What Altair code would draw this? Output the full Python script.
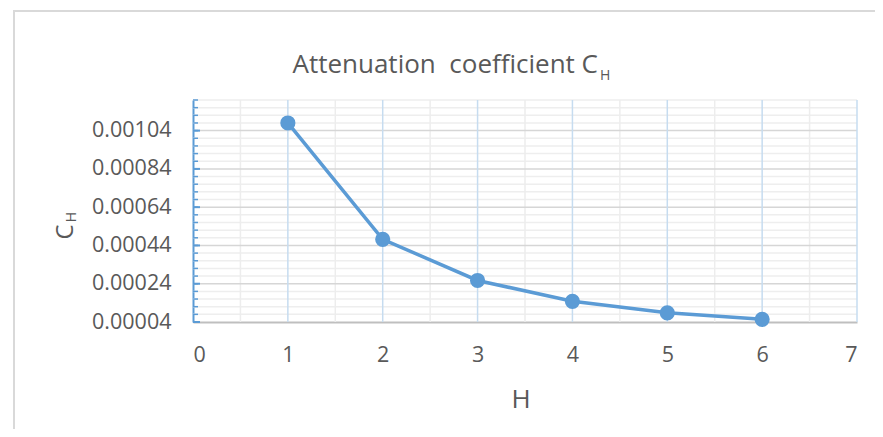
import altair as alt
import pandas as pd

# ---- data ----
H_VALUES = [1, 2, 3, 4, 5, 6]
C_VALUES = [0.00108, 0.000472, 0.000257, 0.000148, 0.000088, 0.000054]

Y_MAJOR = [0.00004, 0.00024, 0.00044, 0.00064, 0.00084, 0.00104]       # labelled ticks
Y_MINOR = [round(0.00004 * k, 6) for k in range(1, 31)]               # 0.00004 .. 0.0012
X_LABELS = [0, 1, 2, 3, 4, 5, 6, 7]
X_GRID_MAJOR = [1, 2, 3, 4, 5, 6, 7]
X_GRID_MINOR = [0.5, 1.5, 2.5, 3.5, 4.5, 5.5, 6.5]
Y_GRID_MAJOR = [v for v in Y_MAJOR if v != Y_MAJOR[0]]
Y_GRID_MINOR = [v for v in Y_MINOR if v not in Y_MAJOR]

TITLE_MAIN = "Attenuation\u00a0 coefficient C"
TITLE_SUB = "H"
Y_TITLE_MAIN = "C"
Y_TITLE_SUB = "H"
X_TITLE = "H"

FONT = "Open Sans"
TEXT_COLOR = "#595959"
BLUE = "#5b9bd5"

df = pd.DataFrame({"H": H_VALUES, "C": C_VALUES})

x_scale = alt.Scale(domain=[0, 7], nice=False, zero=False)
y_scale = alt.Scale(domain=[0.00004, 0.0012], nice=False, zero=False)

x_axis = alt.Axis(
    values=X_LABELS,
    format="d",
    labelOverlap=False,
    ticks=False,
    tickSize=0,
    labelPadding=22,
    labelFontSize=21.5,
    labelFont=FONT,
    labelColor=TEXT_COLOR,
    domainColor="#bfbfbf",
    domainWidth=2,
    grid=False,
    title=None,
)

y_axis = alt.Axis(
    values=Y_MAJOR,
    format=".5f",
    labelOverlap=False,
    ticks=False,
    tickSize=0,
    labelPadding=22,
    labelFontSize=21.5,
    labelFont=FONT,
    labelColor=TEXT_COLOR,
    domainColor=BLUE,
    domainWidth=2,
    grid=False,
    title=None,
)


def X(field):
    return alt.X(field, scale=x_scale, axis=x_axis)


def Y(field):
    return alt.Y(field, scale=y_scale, axis=y_axis)


def hgrid(values, color):
    return alt.Chart(pd.DataFrame({"v": values})).mark_rule(color=color, strokeWidth=1.5).encode(
        y=Y("v:Q"), x=alt.value(0), x2=alt.value(664)
    )


def vgrid(values, color):
    return alt.Chart(pd.DataFrame({"v": values})).mark_rule(color=color, strokeWidth=1.5).encode(
        x=X("v:Q"), y=alt.value(0), y2=alt.value(222)
    )


grid_h_minor = hgrid(Y_GRID_MINOR, "#eeeeee")
grid_v_minor = vgrid(X_GRID_MINOR, "#ededed")
grid_h_major = hgrid(Y_GRID_MAJOR, "#d6d6d6")
grid_v_major = vgrid(X_GRID_MAJOR, "#c6dcf0")

base = alt.Chart(df)
line = base.mark_line(color=BLUE, strokeWidth=3.5).encode(x=X("H:Q"), y=Y("C:Q"))
points = base.mark_point(filled=True, opacity=1, size=230, color=BLUE, shape="circle").encode(
    x=X("H:Q"), y=Y("C:Q")
)

minor_ticks = alt.Chart(pd.DataFrame({"v": Y_MINOR})).mark_rule(color=BLUE, strokeWidth=1.5).encode(
    y=Y("v:Q"), x=alt.value(0), x2=alt.value(5)
)
major_ticks = alt.Chart(pd.DataFrame({"v": Y_MAJOR})).mark_rule(color=BLUE, strokeWidth=2).encode(
    y=Y("v:Q"), x=alt.value(0), x2=alt.value(7)
)

one = alt.Data(values=[{}])

title_main = alt.Chart(one).mark_text(
    text=TITLE_MAIN, font=FONT, fontSize=26, color=TEXT_COLOR, align="right", baseline="alphabetic"
).encode(x=alt.value(405), y=alt.value(-27))
title_sub = alt.Chart(one).mark_text(
    text=TITLE_SUB, font=FONT, fontSize=14, color=TEXT_COLOR, align="left", baseline="alphabetic"
).encode(x=alt.value(407), y=alt.value(-20))

ytitle_main = alt.Chart(one).mark_text(
    text=Y_TITLE_MAIN, font=FONT, fontSize=24, color=TEXT_COLOR, align="center", baseline="middle", angle=270
).encode(x=alt.value(-127), y=alt.value(132))
ytitle_sub = alt.Chart(one).mark_text(
    text=Y_TITLE_SUB, font=FONT, fontSize=14, color=TEXT_COLOR, align="center", baseline="middle", angle=270
).encode(x=alt.value(-121), y=alt.value(117))

xtitle = alt.Chart(one).mark_text(
    text=X_TITLE, font=FONT, fontSize=26, color=TEXT_COLOR, align="center", baseline="middle"
).encode(x=alt.value(328), y=alt.value(300))

border_left = alt.Chart(one).mark_rule(color="#d9d9d9", strokeWidth=2).encode(
    x=alt.value(-179), y=alt.value(-89), y2=alt.value(340)
)
border_top = alt.Chart(one).mark_rule(color="#d9d9d9", strokeWidth=2).encode(
    x=alt.value(-180), x2=alt.value(700), y=alt.value(-89)
)

chart = alt.layer(
    grid_h_minor, grid_v_minor, grid_h_major, grid_v_major,
    line, points, minor_ticks, major_ticks,
    title_main, title_sub, ytitle_main, ytitle_sub, xtitle,
    border_left, border_top,
).properties(
    width=664,
    height=222,
    autosize=alt.AutoSizeParams(type="none"),
    padding={"left": 185, "top": 92, "right": 18, "bottom": 107},
    background="white",
).configure_view(stroke=None)

chart.save("out.html", embed_options={"renderer": "svg", "actions": False})
